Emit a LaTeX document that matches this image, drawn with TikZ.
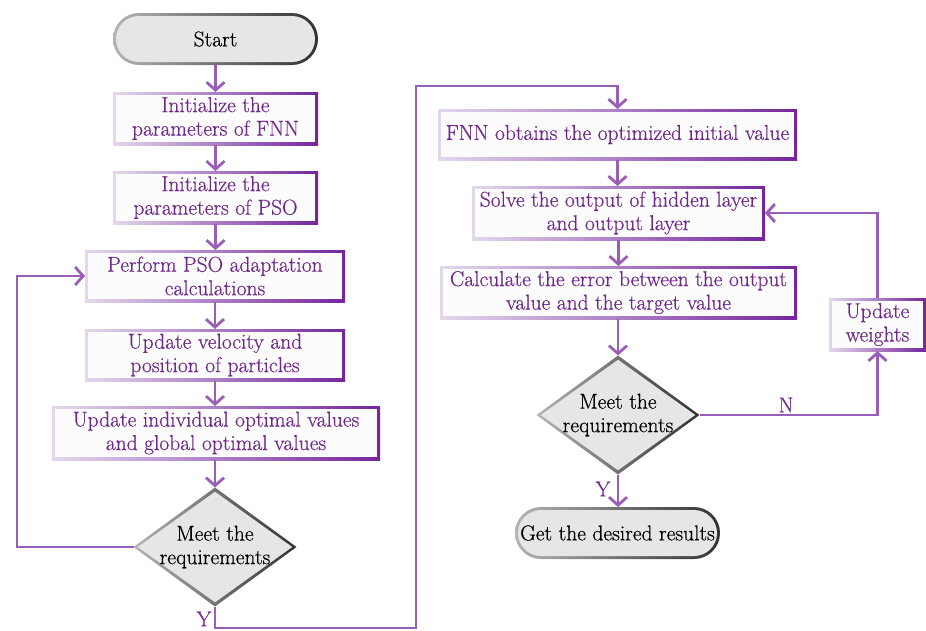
\documentclass[tikz,border=0pt]{standalone}
\usepackage{fontspec}
\setmainfont{Latin Modern Roman}[FakeBold=0.5]
\usetikzlibrary{arrows.meta,calc,shapes.geometric}
\definecolor{txtpurple}{RGB}{112,40,140}
\definecolor{linepurple}{RGB}{152,94,184}
\definecolor{bordlight}{RGB}{228,216,236}
\definecolor{borddark}{RGB}{116,38,156}
\definecolor{termfill}{RGB}{230,230,230}
\definecolor{greylight}{RGB}{180,180,180}
\definecolor{greydark}{RGB}{50,50,50}
\definecolor{boxfill}{RGB}{252,252,252}
\pgfdeclarelayer{background}
\pgfsetlayers{background,main}
\newcommand\rectring[1]{\begin{pgfonlayer}{background}\shade[left color=bordlight,right color=borddark] (#1.south west) rectangle (#1.north east);\end{pgfonlayer}}
\newcommand\termring[1]{\begin{pgfonlayer}{background}\shade[rounded corners=26pt,left color=greylight,right color=greydark] (#1.south west) rectangle (#1.north east);\end{pgfonlayer}}
\newcommand\diamring[1]{\begin{pgfonlayer}{background}\shade[left color=greylight,right color=greydark] (#1.west) -- (#1.north) -- (#1.east) -- (#1.south) -- cycle;\end{pgfonlayer}}
\tikzset{
  txt/.style={font=\fontsize{21.5}{23.5}\selectfont},
  procbox/.style={txt, rectangle, fill=boxfill, text=txtpurple, align=center, inner sep=0pt, outer sep=3pt},
  termbox/.style={txt, rectangle, rounded corners=23pt, fill=termfill, text=black, align=center, inner sep=0pt, outer sep=3pt, minimum width=199pt, minimum height=46pt},
  decbox/.style={diamond, fill=termfill, inner sep=0pt, outer sep=3pt, minimum width=157pt, minimum height=113pt},
  dectext/.style={txt, text=black, align=center, inner sep=0pt},
  lbl/.style={txt, text=txtpurple, inner sep=0pt},
  arr/.style={draw=linepurple, line width=2.8pt, -{Straight Barb[length=8pt,width=18pt,line width=2.8pt]}},
  conn/.style={draw=linepurple, line width=2.8pt}
}
\begin{document}
\begin{tikzpicture}[x=1pt,y=-1pt]
\useasboundingbox (0,0) rectangle (926,630);
% left column
\node[termbox] (start) at (215.5,39) {Start};
\node[procbox, minimum width=199pt, minimum height=47pt] (b1) at (215.5,118.5) {Initialize the\\parameters of FNN};
\node[procbox, minimum width=199pt, minimum height=47pt] (b2) at (215.5,197.5) {Initialize the\\parameters of PSO};
\node[procbox, minimum width=254pt, minimum height=46pt] (b3) at (215,276) {Perform PSO adaptation\\calculations};
\node[procbox, minimum width=254pt, minimum height=46pt] (b4) at (215,355) {Update velocity and\\position of particles};
\node[procbox, minimum width=322pt, minimum height=48pt] (b5) at (216,433) {Update individual optimal values\\and global optimal values};
\node[decbox] (d1) at (215,547) {};
\node[dectext] (d1t) at (215,547) {Meet the\\requirements};
% right column
\node[procbox, minimum width=353pt, minimum height=45pt] (b6) at (617.5,134.5) {FNN obtains the optimized initial value};
\node[procbox, minimum width=287pt, minimum height=48pt] (b7) at (618.5,213) {Solve the output of hidden layer\\and output layer};
\node[procbox, minimum width=351pt, minimum height=47pt] (b8) at (618.5,292.5) {Calculate the error between the output\\value and the target value};
\node[decbox] (d2) at (618,415) {};
\node[dectext] (d2t) at (618,415) {Meet the\\requirements};
\node[termbox] (end) at (617.5,533) {Get the desired results};
\node[procbox, minimum width=91pt, minimum height=47pt] (bw) at (877.5,324.5) {Update\\weights};
% borders
\termring{start}\termring{end}
\rectring{b1}\rectring{b2}\rectring{b3}\rectring{b4}\rectring{b5}
\rectring{b6}\rectring{b7}\rectring{b8}\rectring{bw}
\diamring{d1}\diamring{d2}
% helper coordinates
\coordinate (lx) at (17,0);
\coordinate (ybot) at (416,628);
\coordinate (ytop) at (416,86);
% left connectors
\draw[arr] (start.south) -- (start.south |- b1.north);
\draw[arr] (b1.south) -- (b1.south |- b2.north);
\draw[arr] (b2.south) -- (b2.south |- b3.north);
\draw[arr] (b3.south) -- (b3.south |- b4.north);
\draw[arr] (b4.south) -- (b4.south |- b5.north);
\draw[arr] (b5.south -| d1.north) -- (d1.north);
\draw[arr] (d1.west) -- (d1.west -| lx) |- (b3.west);
\draw[arr] (d1.south) |- (ybot) -- (ytop) -| (b6.north);
\node[lbl] (ly1) at (204,619) {Y};
% right connectors
\draw[arr] (b6.south) -- (b6.south |- b7.north);
\draw[arr] (b7.south) -- (b7.south |- b8.north);
\draw[arr] (b8.south -| d2.north) -- (d2.north);
\draw[arr] (d2.south) -- (d2.south |- end.north);
\node[lbl] (ly2) at (603,489) {Y};
\draw[arr] (d2.east) -| (bw.south);
\node[lbl] (ln) at (786,405) {N};
\draw[arr] (bw.north) |- (b7.east);
\end{tikzpicture}
\end{document}
